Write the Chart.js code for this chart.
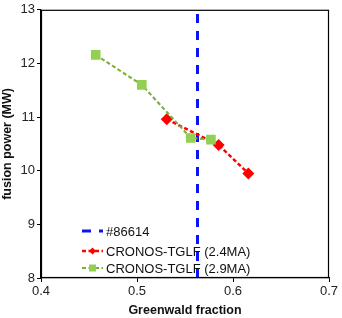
<!DOCTYPE html>
<html>
<head>
<meta charset="utf-8">
<script src="https://cdn.jsdelivr.net/npm/chart.js@4.4.1/dist/chart.umd.min.js"></script>
<style>
  html, body { margin: 0; padding: 0; background: #fff; }
  #wrap { width: 342px; height: 318px; }
</style>
</head>
<body>
<div id="wrap"><canvas id="c" width="342" height="318"></canvas></div>
<script>
// --- data ---
const xTicks = [0.4, 0.5, 0.6, 0.7];
const yTicks = [8, 9, 10, 11, 12, 13];

const shotLabel = '#86614';
const shotFraction = 0.563;

const lowLabel = 'CRONOS-TGLF (2.4MA)';
const lowX = [0.531, 0.585, 0.616];
const lowY = [10.96, 10.48, 9.95];

const highLabel = 'CRONOS-TGLF (2.9MA)';
const highX = [0.457, 0.505, 0.556, 0.577];
const highY = [12.16, 11.60, 10.61, 10.58];

const BLUE = '#0a14f5';
const RED = '#ff0000';
const GREEN_LINE = '#7aae34';
const GREEN_FILL = '#92cf52';
const FONT = '"Liberation Sans", Arial, sans-serif';

const pts = (xs, ys) => xs.map((x, i) => ({ x, y: ys[i] }));

// box round the plot area
const frame = {
  id: 'frame',
  afterDraw(chart) {
    const { ctx, chartArea: a } = chart;
    ctx.save();
    ctx.strokeStyle = '#000';
    ctx.lineWidth = 1.2;
    ctx.strokeRect(a.left + 0.5, a.top + 0.5, a.right - a.left - 1, a.bottom - a.top - 1);
    ctx.restore();
  }
};

// legend drawn inside the plot, lower left
const innerLegend = {
  id: 'innerLegend',
  afterDatasetsDraw(chart) {
    const { ctx } = chart;
    const x0 = 82, x1 = 103, tx = 106;
    const rows = [231, 251, 268];
    ctx.save();
    ctx.font = '13px ' + FONT;
    ctx.textBaseline = 'middle';
    chart.data.datasets.forEach((ds, i) => {
      const y = rows[i];
      ctx.strokeStyle = ds.borderColor;
      ctx.lineWidth = ds.borderWidth;
      ctx.setLineDash(ds.borderDash || []);
      ctx.beginPath();
      ctx.moveTo(x0, y);
      ctx.lineTo(x1, y);
      ctx.stroke();
      ctx.setLineDash([]);
      if (ds.pointRadius > 0) {
        ctx.fillStyle = ds.pointBackgroundColor;
        const cx = (x0 + x1) / 2;
        if (ds.pointStyle === 'rect') {
          ctx.fillRect(cx - 3.5, y - 3.5, 7, 7);
        } else {
          ctx.beginPath();
          ctx.moveTo(cx, y - 3.5);
          ctx.lineTo(cx + 3.5, y);
          ctx.lineTo(cx, y + 3.5);
          ctx.lineTo(cx - 3.5, y);
          ctx.closePath();
          ctx.fill();
        }
      }
      ctx.fillStyle = '#111';
      ctx.fillText(ds.label, tx, y + 1);
    });
    ctx.restore();
  }
};

new Chart(document.getElementById('c'), {
  type: 'scatter',
  data: {
    datasets: [
      {
        label: shotLabel,
        data: [{ x: shotFraction, y: yTicks[0] }, { x: shotFraction, y: yTicks[yTicks.length - 1] }],
        showLine: true,
        borderColor: BLUE,
        borderWidth: 3,
        borderDash: [9, 8],
        pointRadius: 0,
        order: 3,
      },
      {
        label: lowLabel,
        data: pts(lowX, lowY),
        showLine: true,
        borderColor: RED,
        borderWidth: 2.5,
        borderDash: [4, 2.5],
        pointStyle: 'rectRot',
        pointRadius: 6,
        pointBackgroundColor: RED,
        pointBorderColor: RED,
        pointBorderWidth: 0,
        order: 2,
      },
      {
        label: highLabel,
        data: pts(highX, highY),
        showLine: true,
        borderColor: GREEN_LINE,
        borderWidth: 2,
        borderDash: [4, 2.5],
        pointStyle: 'rect',
        pointRadius: 6.8,
        pointBackgroundColor: GREEN_FILL,
        pointBorderColor: GREEN_FILL,
        pointBorderWidth: 0,
        order: 1,
      },
    ],
  },
  options: {
    responsive: false,
    animation: false,
    layout: { padding: { top: 9, right: 13, left: 0, bottom: 0 } },
    plugins: {
      legend: { display: false },
      tooltip: { enabled: false },
    },
    scales: {
      x: {
        type: 'linear',
        min: xTicks[0],
        max: xTicks[xTicks.length - 1],
        afterBuildTicks: s => { s.ticks = xTicks.map(v => ({ value: v })); },
        afterFit: s => { s.height = 40; },
        ticks: {
          color: '#222',
          font: { family: FONT, size: 13 },
          padding: 2,
          callback: v => v.toFixed(1),
        },
        grid: { display: true, drawOnChartArea: false, tickLength: 4, color: '#000' },
        border: { color: '#000', width: 1.2 },
        title: {
          display: true,
          text: 'Greenwald fraction',
          color: '#111',
          font: { family: FONT, size: 12.5, weight: 'bold' },
          padding: { top: 0, bottom: 0 },
        },
      },
      y: {
        type: 'linear',
        min: yTicks[0],
        max: yTicks[yTicks.length - 1],
        afterBuildTicks: s => { s.ticks = yTicks.map(v => ({ value: v })); },
        afterFit: s => { s.width = 41; },
        ticks: {
          color: '#222',
          font: { family: FONT, size: 13 },
          padding: 2,
        },
        grid: { display: true, drawOnChartArea: false, tickLength: 4, color: '#000' },
        border: { color: '#000', width: 1.2 },
        title: {
          display: true,
          text: 'fusion power (MW)',
          color: '#111',
          font: { family: FONT, size: 12.5, weight: 'bold' },
          padding: { top: 0, bottom: 2 },
        },
      },
    },
  },
  plugins: [frame, innerLegend],
});
</script>
</body>
</html>
